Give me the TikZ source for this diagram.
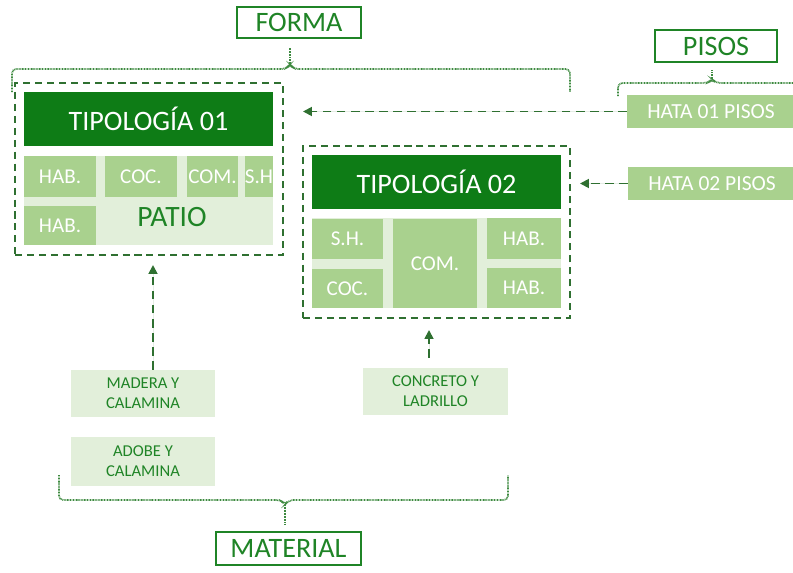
\documentclass[tikz,border=0pt]{standalone}
\usepackage{fontspec}
\setmainfont{Carlito}
\usetikzlibrary{positioning,arrows.meta}
\definecolor{deep}{HTML}{0E7C16}
\definecolor{leaf}{HTML}{A9D18E}
\definecolor{mint}{HTML}{E2EFDA}
\definecolor{ink}{HTML}{1F8426}
\definecolor{frame}{HTML}{2F7031}
\definecolor{dots}{HTML}{3E8A40}

\begin{document}
\begin{tikzpicture}[x=0.025cm, y=-0.025cm,
  headbar/.style={fill=deep, text=white, font=\fontsize{20}{23}\selectfont,
                  minimum width=6.225cm, minimum height=1.35cm, inner sep=0pt},
  room/.style={fill=leaf, text=white, font=\fontsize{15}{17}\selectfont,
               inner sep=0pt, minimum height=1cm},
  yard/.style={fill=mint, inner sep=0pt, minimum width=6.225cm},
  zone/.style={draw=frame, line width=1.4pt, dash pattern=on 5pt off 3.5pt, inner sep=0pt},
  storey/.style={fill=leaf, text=white, font=\fontsize{15.3}{18}\selectfont,
                 minimum width=4.2cm, minimum height=0.825cm, inner sep=0pt},
  matbox/.style={fill=mint, text=ink, font=\fontsize{11.8}{14}\selectfont, align=center,
                 minimum width=3.6cm, inner sep=0pt},
  headbox/.style={draw=ink, line width=1pt, text=ink, font=\fontsize{20}{23}\selectfont, inner sep=0pt},
  arr/.style={-{Triangle[length=2.2mm,width=2.2mm]}, draw=frame, fill=frame, line width=1.3pt,
              dash pattern=on 6pt off 4pt},
  bracket/.style={draw=dots, line width=1.2pt, dash pattern=on 0.6pt off 0.5pt, rounded corners=3pt}
]
  \useasboundingbox (0,0) rectangle (793,572);

  % headings
  \node[headbox, minimum width=3.1cm, minimum height=0.775cm] (forma) at (299,22.5) {FORMA};
  \node[headbox, minimum width=3.05cm, minimum height=0.8cm] (pisos) at (716,46) {PISOS};
  \node[headbox, minimum width=3.625cm, minimum height=0.825cm] (material) at (288.5,548.5) {MATERIAL};

  % tipologia 01
  \node[zone, minimum width=6.7cm, minimum height=4.3cm] (zone1) at (149,169) {};
  \node[headbar] (tipo1) at (148.5,119) {TIPOLOGÍA 01};
  \node[yard, minimum height=2.225cm] (yard1) at (148.5,200.5) {};
  \node[room, minimum width=1.8cm, minimum height=1.025cm] (hab1a) at (60,176.5) {HAB.};
  \node[room, minimum width=1.8cm, minimum height=1.025cm] (coc1) at (141,176.5) {COC.};
  \node[room, minimum width=1.275cm, minimum height=1.025cm] (com1) at (212.5,176.5) {COM.};
  \node[room, minimum width=0.7cm, minimum height=1.025cm] (sh1) at (259,176.5) {S.H};
  \node[room, minimum width=1.8cm, minimum height=0.975cm] (hab1b) at (60,225.5) {HAB.};
  \node[text=ink, font=\fontsize{21}{24}\selectfont] (patio) at (172,217) {PATIO};

  % tipologia 02
  \node[zone, minimum width=6.675cm, minimum height=4.3cm] (zone2) at (436.5,232) {};
  \node[headbar] (tipo2) at (436.5,182) {TIPOLOGÍA 02};
  \node[yard, minimum height=2.25cm] (yard2) at (436.5,263) {};
  \node[room, minimum width=1.775cm] (sh2) at (347.5,239) {S.H.};
  \node[room, minimum width=1.775cm, minimum height=0.975cm] (coc2) at (347.5,288.5) {COC.};
  \node[room, minimum width=2.1cm, minimum height=2.225cm] (com2) at (435,263.5) {COM.};
  \node[room, minimum width=1.85cm] (hab2a) at (524,238.5) {HAB.};
  \node[room, minimum width=1.85cm] (hab2b) at (524,288) {HAB.};

  % pisos
  \node[storey] (hata1) at (711,111.5) {HATA 01 PISOS};
  \node[storey] (hata2) at (712,183.5) {HATA 02 PISOS};

  % materiales
  \node[matbox, minimum height=1.175cm] (madera) at (143,393.5) {MADERA Y\\CALAMINA};
  \node[matbox, minimum height=1.225cm] (adobe) at (143,461.5) {ADOBE Y\\CALAMINA};
  \node[matbox, minimum width=3.625cm, minimum height=1.175cm] (concreto) at (435.5,391.5) {CONCRETO Y\\LADRILLO};

  % arrows
  \coordinate (in1) at (303,111.5);
  \coordinate (in2) at (580,183.5);
  \coordinate (in3) at (153,265);
  \coordinate (in4) at (429,330);
  \draw[arr] (hata1) -- (in1);
  \draw[arr] (hata2) -- (in2);
  \draw[arr] (madera.north -| in3) -- (in3);
  \draw[arr, shorten <=0.25cm] (concreto.north -| in4) -- (in4);

  % brackets
  \draw[bracket] (12,92) -- (12,69) -- (286,69) -- (290,64) -- (294,69) -- (570,69) -- (570,92);
  \draw[bracket, rounded corners=0pt] (290,64) -- (290,48);
  \draw[bracket] (618,96) -- (618,83) -- (708,83) -- (712,79) -- (716,83) -- (800,83);
  \draw[bracket, rounded corners=0pt] (712,79) -- (712,70);
  \draw[bracket] (59,475) -- (59,500) -- (281,500) -- (285,505) -- (289,500) -- (508,500) -- (508,475);
  \draw[bracket, rounded corners=0pt] (285,505) -- (285,525);
\end{tikzpicture}
\end{document}
